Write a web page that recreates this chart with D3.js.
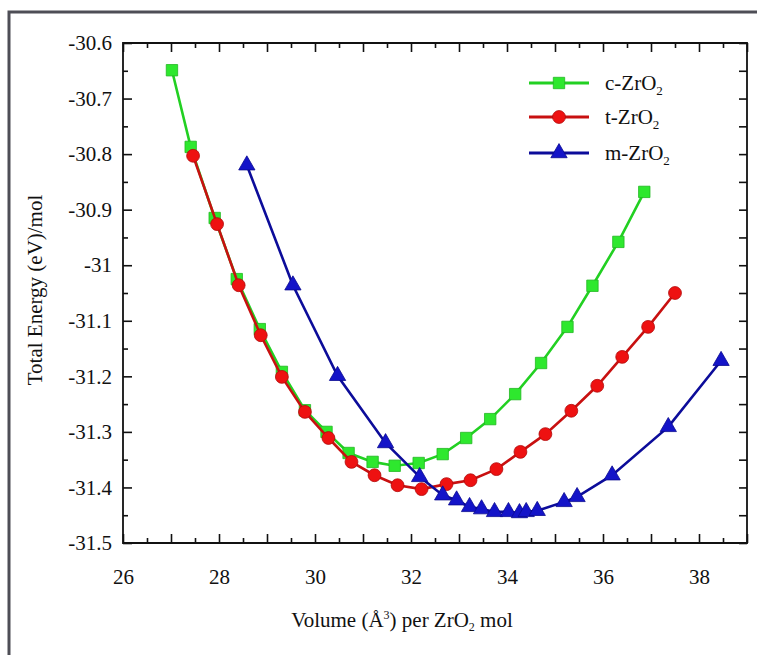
<!DOCTYPE html>
<html><head><meta charset="utf-8">
<script src="https://cdn.jsdelivr.net/npm/d3@7"></script>
<style>html,body{margin:0;padding:0;background:#fff;} svg{display:block;} svg text{font-family:"Liberation Serif","DejaVu Serif",serif;}</style>
</head><body>
<svg id="chart" width="757" height="655"></svg>
<script>
// ---- data ----
const cVol = [27.02,27.41,27.91,28.37,28.85,29.31,29.79,30.24,30.70,31.20,31.66,32.16,32.66,33.15,33.65,34.17,34.71,35.26,35.78,36.32,36.86];
const cEnergy = [-30.649,-30.787,-30.915,-31.025,-31.115,-31.192,-31.261,-31.300,-31.338,-31.354,-31.361,-31.356,-31.340,-31.311,-31.277,-31.232,-31.176,-31.111,-31.037,-30.958,-30.868];
const tVol = [27.46,27.96,28.41,28.87,29.31,29.79,30.28,30.76,31.24,31.72,32.22,32.74,33.24,33.78,34.28,34.80,35.34,35.88,36.40,36.94,37.50];
const tEnergy = [-30.803,-30.926,-31.036,-31.126,-31.201,-31.264,-31.311,-31.354,-31.378,-31.396,-31.403,-31.394,-31.387,-31.367,-31.336,-31.304,-31.262,-31.217,-31.165,-31.111,-31.050];
const mVol = [28.58,29.54,30.47,31.47,32.18,32.66,32.95,33.22,33.47,33.74,34.03,34.26,34.40,34.63,35.19,35.46,36.19,37.36,38.46];
const mEnergy = [-30.820,-31.036,-31.199,-31.320,-31.381,-31.414,-31.423,-31.435,-31.439,-31.444,-31.444,-31.446,-31.444,-31.442,-31.426,-31.417,-31.378,-31.291,-31.172];
const seriesNames = ["c-ZrO", "t-ZrO", "m-ZrO"];
const xMajorTicks = [26,27,28,29,30,31,32,33,34,35,36,37,38,39];
const xLabelTicks = [26,28,30,32,34,36,38];
const yMajorTicks = [-30.6,-30.7,-30.8,-30.9,-31,-31.1,-31.2,-31.3,-31.4,-31.5];

// ---- layout ----
const L = 123, R = 747, T = 43, B = 543;
const svg = d3.select("#chart");

// outer frame
svg.append("rect").attr("x", 9).attr("y", 12).attr("width", 800).attr("height", 700)
  .attr("fill", "none").attr("stroke", "#4e4e56").attr("stroke-width", 3);

const x = d3.scaleLinear().domain([26, 39]).range([L, R]);
const y = d3.scaleLinear().domain([-31.5, -30.6]).range([B, T]);

const xMinor = d3.range(26.5, 39, 1);
const yMinor = d3.range(0, 9).map(i => -30.65 - i * 0.1);

const axisColor = "#111";
function styleAxis(g) {
  g.select(".domain").remove();
  g.selectAll("line").attr("stroke", axisColor).attr("stroke-width", 1.6);
  g.attr("font-family", null).attr("font-size", null);
  g.selectAll("text").style("font-family", '"Liberation Serif","DejaVu Serif",serif').style("font-size", "21px").attr("fill", "#111");
}
const fmtY = v => String(+v.toFixed(1));

// bottom
svg.append("g").attr("transform", `translate(0,${B})`)
  .call(d3.axisBottom(x).tickValues(xMajorTicks).tickSize(-9).tickFormat(v => xLabelTicks.includes(v) ? v : "").tickPadding(26))
  .call(styleAxis);
svg.append("g").attr("transform", `translate(0,${B})`)
  .call(d3.axisBottom(x).tickValues(xMinor).tickSize(-5).tickFormat(""))
  .call(styleAxis);
// top
svg.append("g").attr("transform", `translate(0,${T})`)
  .call(d3.axisTop(x).tickValues(xMajorTicks).tickSize(-9).tickFormat(""))
  .call(styleAxis);
svg.append("g").attr("transform", `translate(0,${T})`)
  .call(d3.axisTop(x).tickValues(xMinor).tickSize(-5).tickFormat(""))
  .call(styleAxis);
// left
svg.append("g").attr("transform", `translate(${L},0)`)
  .call(d3.axisLeft(y).tickValues(yMajorTicks).tickSize(-9).tickFormat(fmtY).tickPadding(11))
  .call(styleAxis);
svg.append("g").attr("transform", `translate(${L},0)`)
  .call(d3.axisLeft(y).tickValues(yMinor).tickSize(-5).tickFormat(""))
  .call(styleAxis);
// right
svg.append("g").attr("transform", `translate(${R},0)`)
  .call(d3.axisRight(y).tickValues(yMajorTicks.concat(yMinor)).tickSize(-8).tickFormat(""))
  .call(styleAxis);

// frame of plot
svg.append("path")
  .attr("d", `M${L},${T}H${R}V${B}H${L}Z`)
  .attr("fill", "none").attr("stroke", axisColor).attr("stroke-width", 1.8);

// series
const series = [
  {vol: cVol, e: cEnergy, fill: "#2ee82e", line: "#22d022", stroke: "#22b822", sym: d3.symbolSquare, size: 130},
  {vol: tVol, e: tEnergy, fill: "#ee1111", line: "#c81010", stroke: "#b00a0a", sym: d3.symbolCircle, size: 130},
  {vol: mVol, e: mEnergy, fill: "#1414c8", line: "#0c0c9a", stroke: "#0a0a90", sym: d3.symbolTriangle, size: 115}
];
const line = d3.line().x(d => x(d[0])).y(d => y(d[1]));
series.forEach(s => {
  const pts = s.vol.map((v, i) => [v, s.e[i]]);
  const g = svg.append("g");
  g.append("path").datum(pts).attr("d", line).attr("fill", "none")
    .attr("stroke", s.line).attr("stroke-width", 2.6);
  g.selectAll("path.m").data(pts).enter().append("path").attr("class", "m")
    .attr("transform", d => `translate(${x(d[0])},${y(d[1])})`)
    .attr("d", d3.symbol().type(s.sym).size(s.size))
    .attr("fill", s.fill).attr("stroke", s.stroke).attr("stroke-width", 0.8);
});

// legend
const leg = svg.append("g");
series.forEach((s, i) => {
  const ly = [83, 117, 153][i];
  leg.append("line").attr("x1", 529).attr("x2", 589).attr("y1", ly).attr("y2", ly)
    .attr("stroke", s.line).attr("stroke-width", 2.8);
  leg.append("path").attr("transform", `translate(559,${ly})`)
    .attr("d", d3.symbol().type(s.sym).size(s.size)).attr("fill", s.fill).attr("stroke", s.stroke).attr("stroke-width", 0.8);
  const t = leg.append("text").attr("x", 605).attr("y", ly + 7)
    .style("font-size", "21px").attr("fill", "#111");
  t.append("tspan").text(seriesNames[i]);
  t.append("tspan").style("font-size", "13px").attr("dy", 5).text("2");
});

// axis titles
const xt = svg.append("text").attr("x", 402).attr("y", 627).attr("text-anchor", "middle")
  .style("font-size", "21px").attr("fill", "#111");
xt.append("tspan").text("Volume (Å");
xt.append("tspan").style("font-size", "12px").attr("dy", -8).text("3");
xt.append("tspan").attr("dy", 8).text(") per ZrO");
xt.append("tspan").style("font-size", "12px").attr("dy", 4).text("2");
xt.append("tspan").attr("dy", -4).text(" mol");

svg.append("text").attr("transform", "translate(42,290) rotate(-90)").attr("text-anchor", "middle")
  .style("font-size", "21px").attr("fill", "#111")
  .text("Total Energy (eV)/mol");
</script>
</body></html>
